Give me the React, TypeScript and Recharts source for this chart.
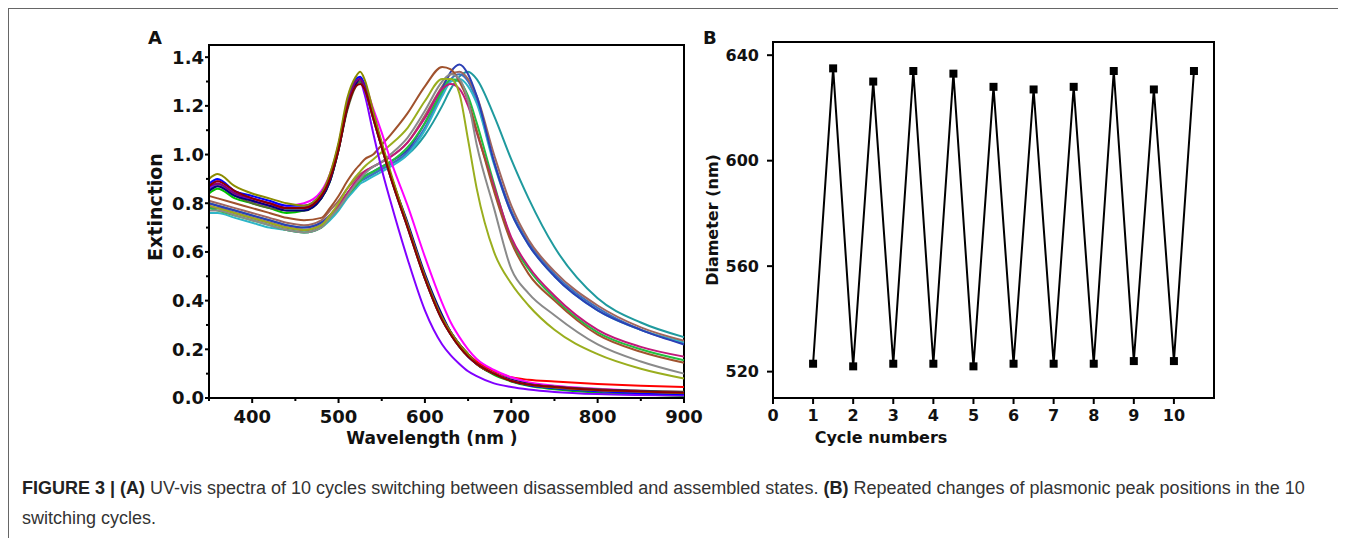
import React from 'react'
import { LineChart, Line, XAxis, YAxis, ReferenceArea } from 'recharts'

// wavelength grid (nm) shared by all spectra in panel A
const wavelengths = [350, 360, 380, 400, 420, 440, 460, 480, 490, 500, 510, 520, 525, 530, 540, 550, 560, 580, 600, 620, 630, 640, 650, 660, 680, 700, 720, 750, 800, 850, 900]

// disassembled state spectra (peak ~522 nm)
const disWine = [0.87, 0.89, 0.85, 0.82, 0.80, 0.78, 0.78, 0.83, 0.90, 1.02, 1.19, 1.28, 1.29, 1.27, 1.15, 1.03, 0.91, 0.70, 0.49, 0.32, 0.26, 0.21, 0.17, 0.14, 0.10, 0.07, 0.055, 0.045, 0.033, 0.027, 0.022]
const disOlive = [0.90, 0.92, 0.87, 0.84, 0.82, 0.80, 0.79, 0.84, 0.92, 1.05, 1.23, 1.32, 1.34, 1.31, 1.18, 1.05, 0.93, 0.71, 0.50, 0.33, 0.27, 0.22, 0.18, 0.14, 0.10, 0.07, 0.055, 0.043, 0.032, 0.026, 0.021]
const disRed = [0.86, 0.88, 0.84, 0.81, 0.79, 0.78, 0.78, 0.83, 0.90, 1.03, 1.20, 1.30, 1.31, 1.28, 1.16, 1.04, 0.92, 0.71, 0.50, 0.33, 0.27, 0.22, 0.18, 0.15, 0.11, 0.085, 0.075, 0.068, 0.058, 0.05, 0.045]
const disBlue = [0.88, 0.90, 0.85, 0.83, 0.81, 0.79, 0.79, 0.84, 0.91, 1.04, 1.21, 1.31, 1.32, 1.29, 1.17, 1.04, 0.92, 0.71, 0.50, 0.33, 0.27, 0.22, 0.17, 0.14, 0.10, 0.07, 0.052, 0.04, 0.028, 0.02, 0.015]
const disNavy = [0.85, 0.87, 0.83, 0.81, 0.79, 0.77, 0.77, 0.82, 0.89, 1.02, 1.19, 1.29, 1.31, 1.28, 1.16, 1.04, 0.92, 0.72, 0.51, 0.34, 0.27, 0.22, 0.18, 0.14, 0.10, 0.075, 0.058, 0.045, 0.034, 0.028, 0.022]
const disMagenta = [0.88, 0.89, 0.85, 0.82, 0.80, 0.79, 0.80, 0.85, 0.92, 1.04, 1.21, 1.30, 1.31, 1.29, 1.19, 1.09, 0.98, 0.79, 0.58, 0.39, 0.31, 0.25, 0.20, 0.16, 0.115, 0.085, 0.065, 0.05, 0.038, 0.03, 0.025]
const disViolet = [0.86, 0.88, 0.84, 0.81, 0.79, 0.78, 0.78, 0.83, 0.90, 1.03, 1.20, 1.29, 1.30, 1.25, 1.09, 0.94, 0.81, 0.57, 0.36, 0.22, 0.175, 0.14, 0.11, 0.09, 0.06, 0.045, 0.035, 0.025, 0.016, 0.012, 0.01]
const disGreen = [0.84, 0.86, 0.82, 0.80, 0.78, 0.76, 0.77, 0.82, 0.89, 1.02, 1.19, 1.29, 1.30, 1.27, 1.15, 1.03, 0.91, 0.70, 0.49, 0.32, 0.26, 0.21, 0.17, 0.14, 0.095, 0.068, 0.05, 0.036, 0.022, 0.014, 0.008]
const disPurple = [0.87, 0.88, 0.84, 0.82, 0.80, 0.78, 0.78, 0.83, 0.90, 1.03, 1.20, 1.30, 1.31, 1.28, 1.16, 1.03, 0.91, 0.70, 0.49, 0.32, 0.26, 0.21, 0.17, 0.14, 0.10, 0.072, 0.055, 0.044, 0.032, 0.026, 0.02]
const disDarkOlive = [0.85, 0.87, 0.83, 0.80, 0.78, 0.77, 0.77, 0.82, 0.89, 1.02, 1.18, 1.28, 1.30, 1.27, 1.15, 1.03, 0.92, 0.71, 0.50, 0.33, 0.27, 0.22, 0.18, 0.14, 0.10, 0.073, 0.057, 0.047, 0.036, 0.03, 0.026]

// assembled state spectra (peak ~620-647 nm)
const asmTeal = [0.80, 0.79, 0.77, 0.75, 0.73, 0.71, 0.70, 0.72, 0.75, 0.79, 0.84, 0.88, 0.89, 0.90, 0.92, 0.94, 0.96, 1.00, 1.08, 1.20, 1.27, 1.32, 1.34, 1.31, 1.16, 0.98, 0.82, 0.62, 0.41, 0.31, 0.25]
const asmRoyal = [0.80, 0.79, 0.77, 0.75, 0.73, 0.71, 0.70, 0.72, 0.75, 0.79, 0.84, 0.88, 0.90, 0.91, 0.93, 0.95, 0.97, 1.02, 1.13, 1.27, 1.34, 1.37, 1.33, 1.24, 0.97, 0.76, 0.63, 0.50, 0.36, 0.28, 0.22]
const asmSteel = [0.78, 0.78, 0.76, 0.74, 0.72, 0.70, 0.69, 0.71, 0.74, 0.78, 0.83, 0.87, 0.89, 0.90, 0.92, 0.94, 0.96, 1.01, 1.11, 1.25, 1.31, 1.33, 1.30, 1.22, 0.97, 0.77, 0.64, 0.51, 0.37, 0.28, 0.225]
const asmRosy = [0.81, 0.80, 0.78, 0.76, 0.74, 0.72, 0.71, 0.73, 0.77, 0.81, 0.86, 0.90, 0.92, 0.93, 0.95, 0.97, 0.99, 1.05, 1.16, 1.28, 1.33, 1.34, 1.31, 1.24, 1.00, 0.79, 0.65, 0.52, 0.38, 0.29, 0.235]
const asmBrown = [0.83, 0.82, 0.80, 0.78, 0.76, 0.74, 0.73, 0.74, 0.78, 0.83, 0.89, 0.94, 0.96, 0.98, 1.00, 1.04, 1.08, 1.17, 1.28, 1.36, 1.35, 1.30, 1.22, 1.10, 0.85, 0.64, 0.51, 0.40, 0.26, 0.19, 0.145]
const asmYellow = [0.79, 0.78, 0.76, 0.74, 0.72, 0.70, 0.69, 0.71, 0.75, 0.80, 0.86, 0.91, 0.93, 0.95, 0.98, 1.01, 1.04, 1.11, 1.22, 1.31, 1.31, 1.25, 1.06, 0.86, 0.60, 0.47, 0.38, 0.28, 0.18, 0.12, 0.08]
const asmGray = [0.77, 0.77, 0.75, 0.73, 0.71, 0.69, 0.68, 0.70, 0.74, 0.78, 0.83, 0.88, 0.90, 0.92, 0.95, 0.97, 1.00, 1.07, 1.18, 1.30, 1.33, 1.31, 1.22, 1.04, 0.78, 0.53, 0.43, 0.34, 0.22, 0.15, 0.10]
const asmPink = [0.79, 0.78, 0.76, 0.74, 0.72, 0.70, 0.69, 0.71, 0.75, 0.79, 0.84, 0.89, 0.91, 0.93, 0.95, 0.97, 0.99, 1.05, 1.15, 1.27, 1.29, 1.27, 1.20, 1.09, 0.87, 0.66, 0.54, 0.42, 0.28, 0.21, 0.17]
const asmGreen = [0.78, 0.77, 0.75, 0.73, 0.71, 0.69, 0.68, 0.70, 0.74, 0.78, 0.83, 0.87, 0.89, 0.91, 0.93, 0.95, 0.97, 1.03, 1.13, 1.26, 1.31, 1.30, 1.24, 1.13, 0.88, 0.65, 0.53, 0.41, 0.27, 0.20, 0.155]
const asmCyan = [0.76, 0.76, 0.74, 0.72, 0.70, 0.69, 0.68, 0.70, 0.73, 0.77, 0.82, 0.86, 0.88, 0.89, 0.91, 0.93, 0.95, 1.00, 1.10, 1.24, 1.30, 1.31, 1.28, 1.21, 0.96, 0.76, 0.63, 0.50, 0.36, 0.28, 0.23]

// panel B: peak position per half cycle
const cycleNumbers = [1, 1.5, 2, 2.5, 3, 3.5, 4, 4.5, 5, 5.5, 6, 6.5, 7, 7.5, 8, 8.5, 9, 9.5, 10, 10.5]
const peakPositions = [523, 635, 522, 630, 523, 634, 523, 633, 522, 628, 523, 627, 523, 628, 523, 634, 524, 627, 524, 634]

const xTicksA = [350, 400, 450, 500, 550, 600, 650, 700, 750, 800, 850, 900]
const xLabelsA = [400, 500, 600, 700, 800, 900]
const yTicksA = [0, 0.1, 0.2, 0.3, 0.4, 0.5, 0.6, 0.7, 0.8, 0.9, 1.0, 1.1, 1.2, 1.3, 1.4]
const yLabelsA = [0, 0.2, 0.4, 0.6, 0.8, 1.0, 1.2, 1.4]
const xTicksB = [0, 1, 2, 3, 4, 5, 6, 7, 8, 9, 10]
const yTicksB = [520, 560, 600, 640]

const series = [
  { key: 'asmTeal', values: asmTeal, color: '#1f9a9e' },
  { key: 'asmSteel', values: asmSteel, color: '#3f6fc0' },
  { key: 'asmCyan', values: asmCyan, color: '#2fb6c8' },
  { key: 'asmRosy', values: asmRosy, color: '#a0665e' },
  { key: 'asmRoyal', values: asmRoyal, color: '#2b3fb5' },
  { key: 'asmGreen', values: asmGreen, color: '#22c040' },
  { key: 'asmPink', values: asmPink, color: '#c2187a' },
  { key: 'asmBrown', values: asmBrown, color: '#a0522d' },
  { key: 'asmGray', values: asmGray, color: '#8a8a8a' },
  { key: 'asmYellow', values: asmYellow, color: '#9aae1e' },
  { key: 'disRed', values: disRed, color: '#ff0000' },
  { key: 'disGreen', values: disGreen, color: '#00c000' },
  { key: 'disViolet', values: disViolet, color: '#8000ff' },
  { key: 'disMagenta', values: disMagenta, color: '#ff00ff' },
  { key: 'disDarkOlive', values: disDarkOlive, color: '#556b2f' },
  { key: 'disNavy', values: disNavy, color: '#000080' },
  { key: 'disBlue', values: disBlue, color: '#0000ff' },
  { key: 'disPurple', values: disPurple, color: '#800080' },
  { key: 'disOlive', values: disOlive, color: '#8c8c00' },
  { key: 'disWine', values: disWine, color: '#8b0000' },
]

const spectraData = wavelengths.map((wl, i) => {
  const row: Record<string, number> = { wl }
  series.forEach((s) => {
    row[s.key] = s.values[i]
  })
  return row
})

const cycleData = cycleNumbers.map((c, i) => ({ cycle: c, peak: peakPositions[i] }))

const BOLD = '"DejaVu Sans", sans-serif'

const XTickA = (props: any) => {
  const { x, y, payload } = props
  const axisY = y - 10
  const major = xLabelsA.includes(payload.value)
  return (
    <g>
      <line x1={x} x2={x} y1={axisY} y2={axisY + (major ? 5 : 3)} stroke="#000" strokeWidth={2} />
      {major && (
        <text x={x} y={axisY + 12} dy="0.73em" textAnchor="middle" fontFamily={BOLD} fontWeight="bold" fontSize={18} fill="#111">
          {payload.value}
        </text>
      )}
    </g>
  )
}

const YTickA = (props: any) => {
  const { x, y, payload } = props
  const axisX = x + 6
  const major = yLabelsA.some((v) => Math.abs(v - payload.value) < 1e-6)
  return (
    <g>
      <line x1={axisX} x2={axisX - (major ? 4 : 3)} y1={y} y2={y} stroke="#000" strokeWidth={2} />
      {major && (
        <text x={axisX - 5} y={y} dy="0.36em" textAnchor="end" fontFamily={BOLD} fontWeight="bold" fontSize={18} fill="#111">
          {payload.value.toFixed(1)}
        </text>
      )}
    </g>
  )
}

const SquareDot = (props: any) => {
  const { cx, cy, index } = props
  return <rect key={`sq${index}`} x={cx - 4} y={cy - 4} width={8} height={8} fill="#000" />
}

const textStyle = (size: number): React.CSSProperties => ({
  position: 'absolute',
  fontFamily: BOLD,
  fontWeight: 'bold',
  fontSize: size,
  color: '#111',
  whiteSpace: 'nowrap',
  lineHeight: 1,
})

const centered = (left: number, top: number, rotate = false): React.CSSProperties => ({
  left,
  top,
  transform: rotate ? 'translate(-50%, -50%) rotate(-90deg)' : 'translate(-50%, -50%)',
})

const captionStyle: React.CSSProperties = {
  position: 'absolute',
  left: 14,
  fontFamily: '"Liberation Sans", Arial, sans-serif',
  fontSize: 18,
  lineHeight: '18px',
  color: '#333',
  whiteSpace: 'nowrap',
}

export default function App() {
  return (
    <div style={{ position: 'relative', width: 1338, height: 530, background: '#fff' }}>
      <div style={{ position: 'absolute', left: -1, top: -1, width: 1400, height: 600, borderLeft: '2px solid #666', borderTop: '2px solid #666' }} />

      <div style={{ position: 'absolute', left: 100, top: 0 }}>
        <LineChart width={620} height={460} data={spectraData} margin={{ top: 37, right: 44, bottom: 40, left: 51 }}>
          <XAxis
            dataKey="wl"
            type="number"
            domain={[350, 900]}
            ticks={xTicksA}
            interval={0}
            height={30}
            tickSize={5}
            tickMargin={5}
            tickLine={false}
            tick={<XTickA />}
            axisLine={{ stroke: '#000', strokeWidth: 2 }}
          />
          <YAxis
            type="number"
            domain={[0, 1.45]}
            ticks={yTicksA}
            interval={0}
            width={50}
            tickSize={4}
            tickMargin={2}
            tickLine={false}
            tick={<YTickA />}
            axisLine={{ stroke: '#000', strokeWidth: 2 }}
          />
          <ReferenceArea x1={350} x2={900} y1={0} y2={1.45} fill="none" stroke="#000" strokeWidth={2} />
          {series.map((s) => (
            <Line
              key={s.key}
              dataKey={s.key}
              type="monotone"
              stroke={s.color}
              strokeWidth={2}
              dot={false}
              isAnimationActive={false}
            />
          ))}
        </LineChart>
      </div>

      <div style={{ position: 'absolute', left: 690, top: 0 }}>
        <LineChart width={560} height={460} data={cycleData} margin={{ top: 34, right: 44, bottom: 40, left: 15 }}>
          <XAxis
            dataKey="cycle"
            type="number"
            domain={[0, 11]}
            ticks={xTicksB}
            interval={0}
            height={30}
            tickSize={6}
            tickMargin={6}
            tick={{ fill: '#111', fontSize: 16, fontWeight: 'bold', fontFamily: BOLD }}
            tickLine={{ stroke: '#000', strokeWidth: 2 }}
            axisLine={{ stroke: '#000', strokeWidth: 2 }}
          />
          <YAxis
            type="number"
            domain={[510, 645]}
            ticks={yTicksB}
            interval={0}
            width={60}
            tickSize={6}
            tickMargin={8}
            tick={{ fill: '#111', fontSize: 16, fontWeight: 'bold', fontFamily: BOLD }}
            tickLine={{ stroke: '#000', strokeWidth: 2 }}
            axisLine={{ stroke: '#000', strokeWidth: 2 }}
          />
          <ReferenceArea x1={0} x2={11} y1={510} y2={645} fill="none" stroke="#000" strokeWidth={2} />
          <Line
            dataKey="peak"
            type="linear"
            stroke="#000"
            strokeWidth={2}
            dot={<SquareDot />}
            isAnimationActive={false}
          />
        </LineChart>
      </div>

      <div style={{ ...textStyle(18), left: 140, top: 21 }}>A</div>
      <div style={{ ...textStyle(18), left: 695, top: 21 }}>B</div>
      <div style={{ ...textStyle(19), ...centered(147, 199, true) }}>Extinction</div>
      <div style={{ ...textStyle(17), ...centered(424, 430) }}>Wavelength (nm )</div>
      <div style={{ ...textStyle(16), ...centered(705, 212, true) }}>Diameter (nm)</div>
      <div style={{ ...textStyle(16), ...centered(873, 430) }}>Cycle numbers</div>

      <div style={{ ...captionStyle, top: 471 }}>
        <b style={{ color: '#222' }}>FIGURE 3 | (A)</b> UV-vis spectra of 10 cycles switching between disassembled and assembled states.{' '}
        <b style={{ color: '#222' }}>(B)</b> Repeated changes of plasmonic peak positions in the 10
      </div>
      <div style={{ ...captionStyle, top: 501 }}>switching cycles.</div>
    </div>
  )
}
